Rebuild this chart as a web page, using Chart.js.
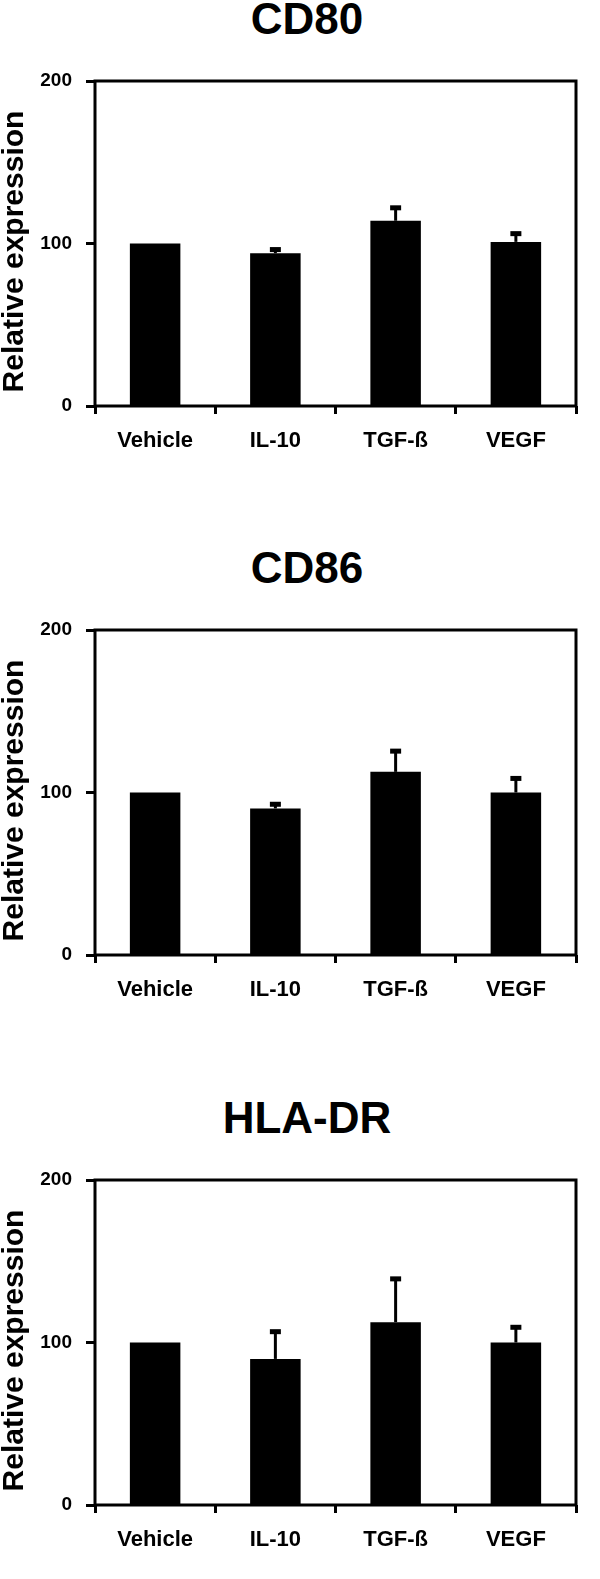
<!DOCTYPE html>
<html>
<head>
<meta charset="utf-8">
<script src="https://cdn.jsdelivr.net/npm/chart.js@4"></script>
<style>
    body { margin: 0; background: #fff; width: 600px; height: 1579px; position: relative; font-family: "Liberation Sans", Arial, sans-serif; }
    .panel { position: absolute; left: 0; width: 600px; height: 540px; }
    .panel h1 { position: absolute; left: 7px; top: -3px; width: 600px; margin: 0; text-align: center; font-size: 44px; line-height: 44px; font-weight: bold; color: #000; }
    .box { position: absolute; left: 0; top: 0; width: 600px; height: 480px; }
</style>
</head>
<body>

<div class="panel" style="top:0px"><h1>CD80</h1><div class="box"><canvas id="c1"></canvas></div></div>
<div class="panel" style="top:549px"><h1>CD86</h1><div class="box"><canvas id="c2"></canvas></div></div>
<div class="panel" style="top:1099px"><h1>HLA-DR</h1><div class="box"><canvas id="c3"></canvas></div></div>

<script>
// data
const categories = ['Vehicle', 'IL-10', 'TGF-ß', 'VEGF']
const yTicks = [0, 100, 200]
const yTitle = 'Relative expression'

const cd80 = [100, 94, 114, 101]
const cd80Err = [0, 3.8, 9.5, 6.6]

const cd86 = [100, 90.2, 112.7, 100]
const cd86Err = [0, 4.1, 14.3, 10.2]

const hladr = [100, 89.9, 112.5, 100]
const hladrErr = [0, 18.3, 28.2, 10.9]

const FONT = "'Liberation Sans', Arial, sans-serif"

// closed frame, upward error bars with caps, and the y title (sits a bit below centre in the original)
const frameAndErrors = {
    id: 'frameAndErrors',
    afterDatasetsDraw(chart) {
        const ctx = chart.ctx
        const a = chart.chartArea
        const yScale = chart.scales.y
        ctx.save()
        ctx.fillStyle = '#000'
        ctx.strokeStyle = '#000'
        ctx.lineWidth = 3
        chart.getDatasetMeta(0).data.forEach((bar, i) => {
            const err = chart.data.datasets[0].err[i]
            if (!err) return
            const topY = yScale.getPixelForValue(chart.data.datasets[0].data[i] + err)
            ctx.beginPath()
            ctx.moveTo(bar.x, bar.y)
            ctx.lineTo(bar.x, topY + 2)
            ctx.stroke()
            ctx.fillRect(bar.x - 5.5, topY, 11, 5)
        })
        ctx.strokeRect(a.left, a.top, a.right - a.left, a.bottom - a.top)

        ctx.translate(15, (a.top + a.bottom) / 2 + 8)
        ctx.rotate(-Math.PI / 2)
        ctx.font = 'bold 30px ' + FONT
        ctx.textAlign = 'center'
        ctx.textBaseline = 'middle'
        ctx.fillText(yTitle, 0, 0)
        ctx.restore()
    }
}

function makeChart(id, values, errors) {
    new Chart(document.getElementById(id), {
        type: 'bar',
        data: {
            labels: categories,
            datasets: [{
                data: values,
                err: errors,
                backgroundColor: '#000',
                borderWidth: 0,
                barPercentage: 0.42,
                categoryPercentage: 1
            }]
        },
        options: {
            responsive: true,
            maintainAspectRatio: false,
            animation: false,
            layout: { padding: { top: 81, right: 24, left: 0, bottom: 0 } },
            plugins: { legend: { display: false }, tooltip: { enabled: false } },
            scales: {
                x: {
                    offset: true,
                    border: { display: false },
                    grid: { offset: true, drawOnChartArea: false, drawTicks: true, tickLength: 8, tickWidth: 3, tickColor: '#000' },
                    ticks: { color: '#000', font: { family: FONT, size: 22, weight: 'bold' }, padding: 14, maxRotation: 0 },
                    afterFit(scale) { scale.height = 74 }
                },
                y: {
                    min: 0,
                    max: 200,
                    border: { display: false },
                    afterBuildTicks(scale) { scale.ticks = yTicks.map(v => ({ value: v })) },
                    grid: { drawOnChartArea: false, drawTicks: true, tickLength: 9, tickWidth: 3, tickColor: '#000' },
                    ticks: { color: '#000', font: { family: FONT, size: 19, weight: 'bold' }, padding: 14 },
                    afterFit(scale) { scale.width = 95 }
                }
            }
        },
        plugins: [frameAndErrors]
    })
}

makeChart('c1', cd80, cd80Err)
makeChart('c2', cd86, cd86Err)
makeChart('c3', hladr, hladrErr)
</script>
</body>
</html>
